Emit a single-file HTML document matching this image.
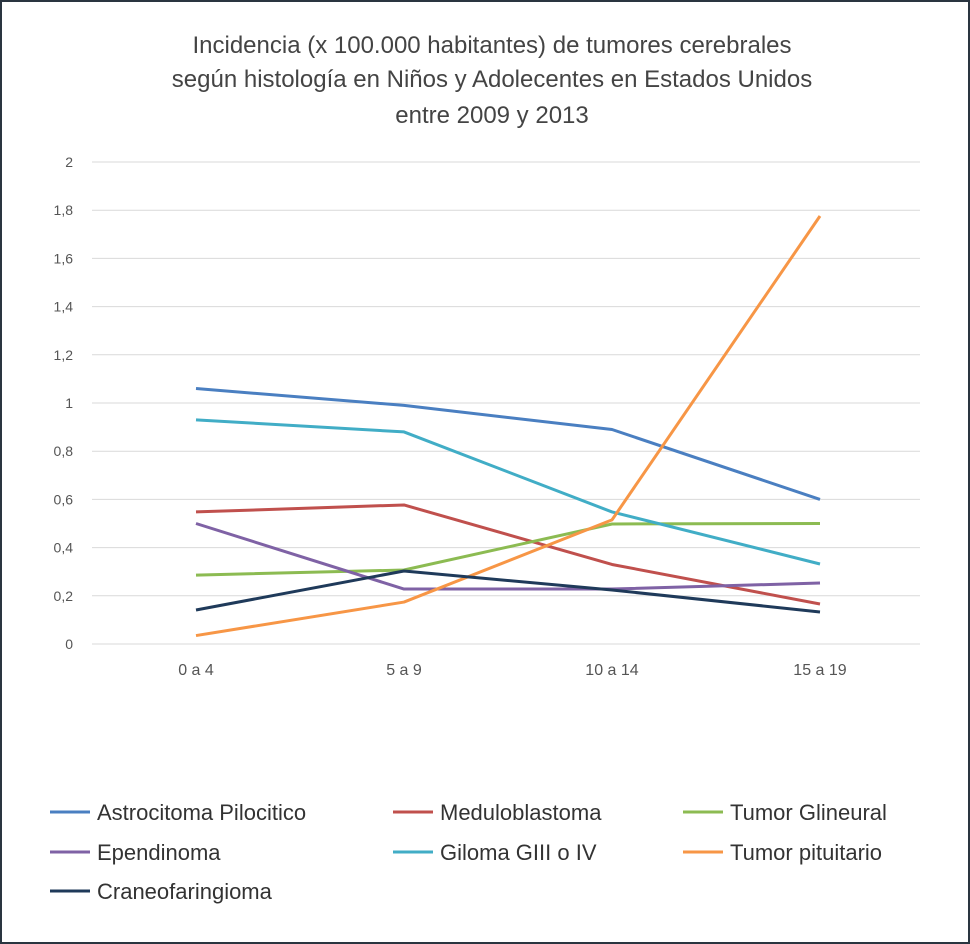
<!DOCTYPE html>
<html><head><meta charset="utf-8"><style>
body{margin:0;background:#fff;}
svg{display:block;font-family:"Liberation Sans",sans-serif;}
</style></head><body>
<svg id="chart" width="970" height="944">
<rect x="1" y="1" width="968" height="942" fill="#fff" stroke="#2a3540" stroke-width="2"/>
<g fill="#444" font-size="24" text-anchor="middle">
<text x="492" y="53">Incidencia  (x 100.000 habitantes) de tumores cerebrales</text>
<text x="492" y="87">según histología  en Niños y Adolecentes  en Estados Unidos</text>
<text x="492" y="123">entre 2009 y 2013</text>
</g>
<g id="grid"></g><g id="series"></g><g id="legend"></g>
</svg>
<script>
const categories=["0 a 4","5 a 9","10 a 14","15 a 19"];
const yTicks=[0,0.2,0.4,0.6,0.8,1,1.2,1.4,1.6,1.8,2];
const seriesNames=["Astrocitoma Pilocitico","Meduloblastoma","Tumor Glineural","Ependinoma","Giloma GIII o IV","Tumor pituitario","Craneofaringioma"];
const seriesColors=["#4a7fc1","#c0504d","#8cbb52","#7f62a5","#41adc6","#f79646","#1f3a5a"];
const astro=[1.06,0.99,0.89,0.6];
const medulo=[0.548,0.577,0.33,0.166];
const glineural=[0.286,0.307,0.498,0.5];
const ependinoma=[0.5,0.228,0.228,0.253];
const giloma=[0.93,0.88,0.548,0.332];
const pituitario=[0.035,0.174,0.515,1.776];
const craneo=[0.141,0.303,0.224,0.133];
const seriesValues=[astro,medulo,glineural,ependinoma,giloma,pituitario,craneo];
const NS="http://www.w3.org/2000/svg";
function X(i){return 196+i*208;}
function Y(v){return 644-v*241;}
function mk(t,a,p){const e=document.createElementNS(NS,t);for(const k in a)e.setAttribute(k,a[k]);p.appendChild(e);return e;}
const grid=document.getElementById('grid');
yTicks.forEach(v=>{
 const l=mk('line',{x1:92,x2:920,y1:Y(v),y2:Y(v),stroke:'#d9d9d9','stroke-width':1},grid);
 
 
 const t=mk('text',{x:73,y:Y(v)+5,'text-anchor':'end','font-size':14,fill:'#555'},grid);
 t.textContent=String(v).replace('.',',');
 
 
});
categories.forEach((c,i)=>{
 const t=mk('text',{x:X(i),y:675,'text-anchor':'middle','font-size':16,fill:'#555'},grid);
 t.textContent=c;
 
 
});
const sg=document.getElementById('series');
seriesValues.forEach((vals,s)=>{
 const p=mk('polyline',{points:vals.map((v,i)=>X(i)+','+Y(v)).join(' '),fill:'none',stroke:seriesColors[s],'stroke-width':3,'stroke-linejoin':'round'},sg);
 
 
});
const lg=document.getElementById('legend');
const lx=[50,393,683],ly=[812,852,891];
seriesNames.forEach((n,s)=>{
 const cx=lx[s%3],cy=ly[Math.floor(s/3)];
 const g=mk('g',{},lg);
 
 
 mk('line',{x1:cx,x2:cx+40,y1:cy,y2:cy,stroke:seriesColors[s],'stroke-width':3},g);
 const t=mk('text',{x:cx+47,y:cy+8,'font-size':22,fill:'#333'},g);
 t.textContent=n;
});
</script>
</body></html>
